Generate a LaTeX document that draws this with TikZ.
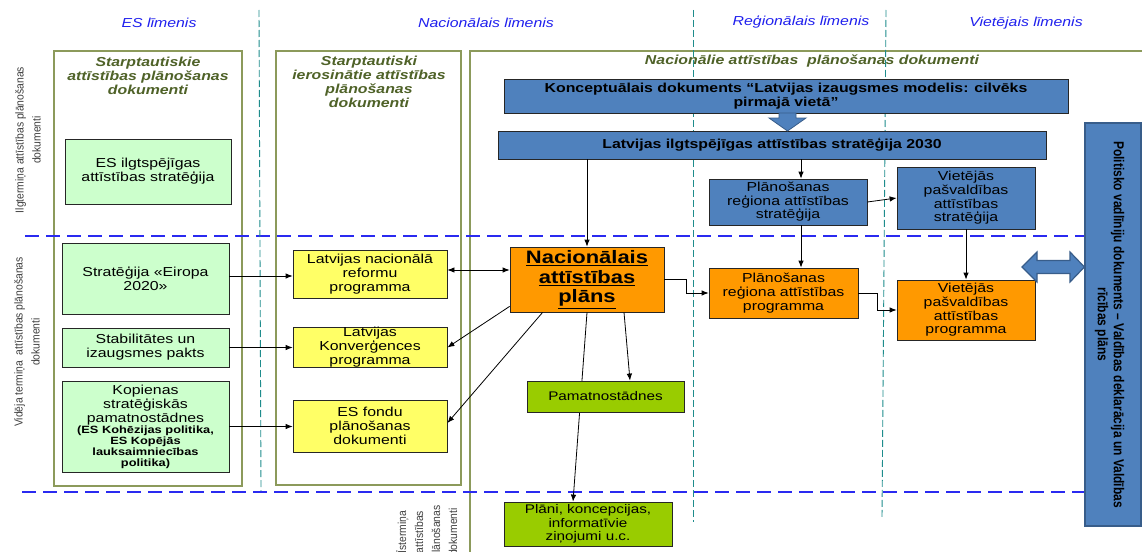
\documentclass[tikz,border=0pt]{standalone}
\usepackage{fontspec}
\setmainfont{Liberation Sans}[FakeStretch=1.22]
\newfontfamily\rotfont{Liberation Sans}[FakeStretch=0.9]
\newfontfamily\plainfont{Liberation Sans}
\usetikzlibrary{arrows.meta}
\definecolor{lgreen}{HTML}{CCFFCC}
\definecolor{lyellow}{HTML}{FFFF66}
\definecolor{mblue}{HTML}{4F81BD}
\definecolor{dblue}{HTML}{385D8A}
\definecolor{orng}{HTML}{FF9900}
\definecolor{limeg}{HTML}{99CC00}
\definecolor{oliveline}{HTML}{8C9A5B}
\definecolor{olivetext}{HTML}{4F6228}
\definecolor{headblue}{HTML}{2020EE}
\definecolor{tealc}{HTML}{1E8C8C}
\definecolor{dashblue}{HTML}{2A2AF0}
\begin{document}
\begin{tikzpicture}[x=1pt,y=-1pt,
  outl/.style={draw=oliveline, line width=1.2pt, inner sep=0pt},
  ttl/.style={text=olivetext, align=center, font=\fontsize{13}{14}\selectfont\bfseries\itshape},
  head/.style={text=headblue, font=\fontsize{13}{15}\selectfont\itshape},
  rlabel/.style={rotate=90, align=center, text=black!75, font=\rotfont\fontsize{11.5}{17}\selectfont},
  box/.style={draw=black!85, line width=0.8pt, inner sep=0pt, align=center, font=\fontsize{13}{14}\selectfont},
  gbox/.style={box, fill=lgreen},
  ybox/.style={box, fill=lyellow},
  bbox/.style={box, fill=mblue},
  obox/.style={box, fill=orng},
  lbox/.style={box, fill=limeg},
  arr/.style={draw=black, line width=0.8pt, -{Latex[length=7pt,width=5.5pt]}},
  darr/.style={draw=black, line width=0.8pt, {Latex[length=7pt,width=5.5pt]}-{Latex[length=7pt,width=5.5pt]}},
  bdash/.style={draw=dashblue, line width=1.2pt, dash pattern=on 14pt off 7pt},
  tdash/.style={draw=tealc, line width=0.9pt, dash pattern=on 7pt off 3pt},
]
\clip (0,0) rectangle (1142,551);
\fill[white] (0,0) rectangle (1142,551);

% container boxes
\node[outl, minimum width=188, minimum height=435] (b1) at (148,268.5) {};
\node[outl, minimum width=185, minimum height=434] (b2) at (368.5,268) {};
\draw[draw=oliveline, line width=1.2pt] (470,560) -- (470,51) -- (1150,51);
\coordinate (b3) at (812,61);

% dashed level lines
\draw[bdash] (25,236) -- (1085,236);
\draw[bdash] (22,492) -- (1085,492);
\draw[tdash] (259,10) -- (261,491);
\draw[tdash] (693.5,10) -- (693.5,522);
\draw[tdash] (886,10) -- (882,517);

% headings
\node[head] (h1) at (159,23) {ES līmenis};
\node[head] (h2) at (486,23) {Nacionālais līmenis};
\node[head] (h3) at (801,22) {Reģionālais līmenis};
\node[head] (h4) at (1026,23) {Vietējais līmenis};

% titles
\node[ttl] (t1) at (148,76) {Starptautiskie\\attīstības plānošanas\\dokumenti};
\node[ttl] (t2) at (369,82) {Starptautiski\\ierosinātie attīstības\\plānošanas\\dokumenti};
\node[ttl] (t3) at (b3) {Nacionālie attīstības~ plānošanas dokumenti};

% side labels
\node[rlabel] (l1) at (28,140) {Ilgtermiņa attīstības plānošanas\\dokumenti};
\node[rlabel] (l2) at (27,342) {Vidēja termiņa~ attīstības plānošanas\\dokumenti};
\node[rlabel] (l3) at (427,532) {Īstermiņa\\attīstības\\plānošanas\\dokumenti};

% ES level boxes
\node[gbox, minimum width=166, minimum height=65] (g1) at (148,171.5) {ES ilgtspējīgas\\attīstības stratēģija};
\node[gbox, minimum width=167, minimum height=71] (g2) at (145.5,278.5) {Stratēģija «Eiropa\\2020»};
\node[gbox, minimum width=167, minimum height=39] (g3) at (145.5,347.5) {Stabilitātes un\\izaugsmes pakts};
\node[gbox, minimum width=167, minimum height=91] (g4) at (145.5,426.5) {\parbox{165pt}{\centering Kopienas\\stratēģiskās\\pamatnostādnes\par\fontsize{10.5}{11}\selectfont\bfseries (ES Kohēzijas politika,\\ES Kopējās\\lauksaimniecības\\politika)\par}};

% international boxes
\node[ybox, minimum width=154, minimum height=48] (y1) at (370,274) {Latvijas nacionālā\\reformu\\programma};
\node[ybox, minimum width=154, minimum height=39] (y2) at (370,347.5) {Latvijas\\Konverģences\\programma};
\node[ybox, minimum width=154, minimum height=52] (y3) at (370,426) {ES fondu\\plānošanas\\dokumenti};

% national boxes
\node[bbox, minimum width=564, minimum height=34, font=\fontsize{13}{14}\selectfont\bfseries] (k) at (786,96) {Konceptuālais dokuments “Latvijas izaugsmes modelis: cilvēks\\pirmajā vietā”};
\node[bbox, minimum width=548, minimum height=28, font=\fontsize{13}{14}\selectfont\bfseries] (s30) at (772,145) {Latvijas ilgtspējīgas attīstības stratēģija 2030};
\node[bbox, minimum width=158, minimum height=46, font=\fontsize{13}{13.5}\selectfont] (prs) at (788,202) {Plānošanas\\reģiona attīstības\\stratēģija};
\node[bbox, minimum width=138, minimum height=62, font=\fontsize{13}{13.7}\selectfont] (vps) at (966,198) {Vietējās\\pašvaldības\\attīstības\\stratēģija};
\node[obox, minimum width=154, minimum height=65, font=\fontsize{18}{19.5}\selectfont\bfseries] (nap) at (587,279.5) {\underline{Nacionālais}\\\underline{attīstības}\\\underline{plāns}};
\node[obox, minimum width=149, minimum height=50] (prp) at (783.5,293) {Plānošanas\\reģiona attīstības\\programma};
\node[obox, minimum width=138, minimum height=60, font=\fontsize{13}{13.7}\selectfont] (vpp) at (966,310) {Vietējās\\pašvaldības\\attīstības\\programma};
\node[lbox, minimum width=168, minimum height=44, font=\fontsize{12.5}{13.5}\selectfont] (pl) at (588,524) {Plāni, koncepcijas,\\informatīvie\\ziņojumi u.c.};

% line through Pamatnostādnes (drawn before it)
\draw[arr] (nap.south) -- ([xshift=-15pt]pl.north);
\node[lbox, minimum width=157, minimum height=31, font=\fontsize{12.5}{14}\selectfont] (pam) at (605.5,396.5) {Pamatnostādnes};

% political box
\node[draw=dblue, line width=1.2pt, fill=mblue, inner sep=0pt, minimum width=56, minimum height=403] (pol) at (1113,324.5) {};
\node[rotate=-90, inner sep=0pt, font=\plainfont\fontsize{12}{13.3}\selectfont\bfseries] (poltext) at ([xshift=-4pt]pol.center) {\scalebox{1}[1.2]{\begin{tabular}{@{}c@{}}Politisko vadlīniju dokuments – Valdības deklarācija un Valdības\\rīcības plāns\end{tabular}}};

% block arrows
\draw[fill=mblue, draw=dblue, line width=0.8pt] (779,113) -- (796,113) -- (796,118) -- (806,118) -- (787.5,131) -- (769,118) -- (779,118) -- cycle;
\draw[fill=mblue, draw=dblue, line width=1.2pt] (1022,267) -- (1037,252) -- (1037,260.5) -- (1070,260.5) -- (1070,252) -- (pol.west |- 0,267) -- (1070,282) -- (1070,273.5) -- (1037,273.5) -- (1037,282) -- cycle;

% connectors
\draw[arr] ([yshift=2.5pt]g2.east) -- ([yshift=2.5pt]g2.east -| y1.west);
\draw[arr] (g3.east) -- (g3.east -| y2.west);
\draw[arr] (g4.east) -- (g4.east -| y3.west);
\draw[darr] ([yshift=4pt]y1.east) -- ([yshift=4pt]y1.east -| nap.west);
\draw[arr] ([yshift=6pt]nap.south west) -- (y2.east);
\draw[arr] ([xshift=33pt]nap.south west) -- ([yshift=3pt]y3.east);
\draw[arr] (nap.north |- s30.south) -- (nap.north);
\draw[arr] ([xshift=13pt]prs.north |- s30.south) -- ([xshift=13pt]prs.north);
\draw[arr] (prs.east) -- (vps.west);
\draw[arr] ([xshift=13pt]prs.south) -- ([xshift=13pt]prs.south |- prp.north);
\draw[arr] (vps.south) -- (vpp.north);
\draw[arr] (nap.east) -- ++(22,0) |- (prp.west);
\draw[arr] (prp.east) -- ++(19,0) |- (vpp.west);
\draw[arr] ([xshift=37pt]nap.south) -- ([xshift=24.5pt]pam.north);
\end{tikzpicture}
\end{document}
